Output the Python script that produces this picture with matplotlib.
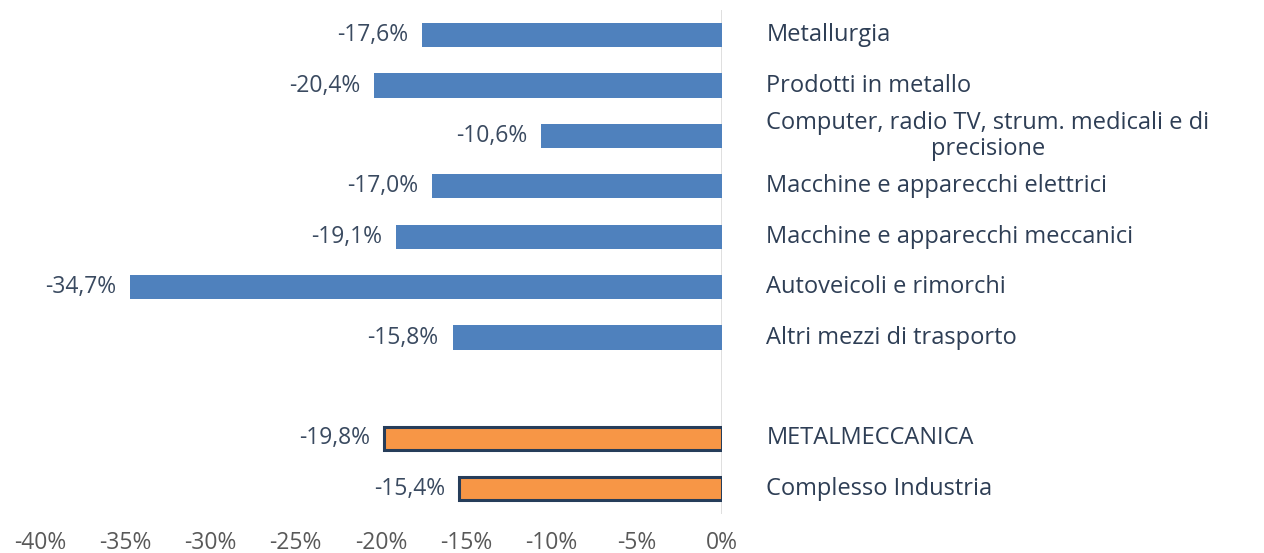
import numpy as np
import matplotlib.pyplot as plt

plt.rcParams['font.family'] = ['Open Sans', 'DejaVu Sans']

# data (percent change), top to bottom; None = empty spacer row
categories = ['Metallurgia', 'Prodotti in metallo',
              'Computer, radio TV, strum. medicali e di\nprecisione',
              'Macchine e apparecchi elettrici', 'Macchine e apparecchi meccanici',
              'Autoveicoli e rimorchi', 'Altri mezzi di trasporto',
              '', 'METALMECCANICA', 'Complesso Industria']
values = [-17.6, -20.4, -10.6, -17.0, -19.1, -34.7, -15.8, None, -19.8, -15.4]
highlight = [False] * 7 + [False, True, True]
xticks = [-40, -35, -30, -25, -20, -15, -10, -5, 0]

blue = '#4F81BD'
orange = '#F79646'
edge = '#263D5A'
txt = '#2E3E55'

fig = plt.figure(figsize=(12.64, 5.53), dpi=100)
ax = fig.add_axes([0.0316, 0.0705, 0.5396, 0.9115])

for i, (cat, v, h) in enumerate(zip(categories, values, highlight)):
    if v is not None:
        if h:
            ax.barh(i, v, height=0.46, color=orange, edgecolor=edge, linewidth=2.2, zorder=2)
        else:
            ax.barh(i, v, height=0.48, color=blue, edgecolor='none', zorder=2)
        ax.annotate(f'{v:.1f}%'.replace('.', ','), xy=(v, i), xytext=(-10, 0),
                    textcoords='offset points', ha='right', va='center',
                    fontsize=16.5, color='#3A4A60')
    if cat:
        ax.annotate(cat, xy=(0, i), xytext=(32, 0), textcoords='offset points',
                    ha='left', va='center', fontsize=17, color=txt,
                    multialignment='center', linespacing=1.15, annotation_clip=False)

ax.axvline(0, color='#D9D9D9', linewidth=1.2, zorder=1)
ax.set_xlim(-40, 0)
ax.set_ylim(9.5, -0.5)
ax.set_xticks(xticks)
ax.set_xticklabels([f'{t}%' for t in xticks], fontsize=16.5, color='#595959')
ax.tick_params(axis='x', length=0, pad=12)
ax.set_yticks([])
for s in ax.spines.values():
    s.set_visible(False)

fig.savefig('out.png', dpi=100)
